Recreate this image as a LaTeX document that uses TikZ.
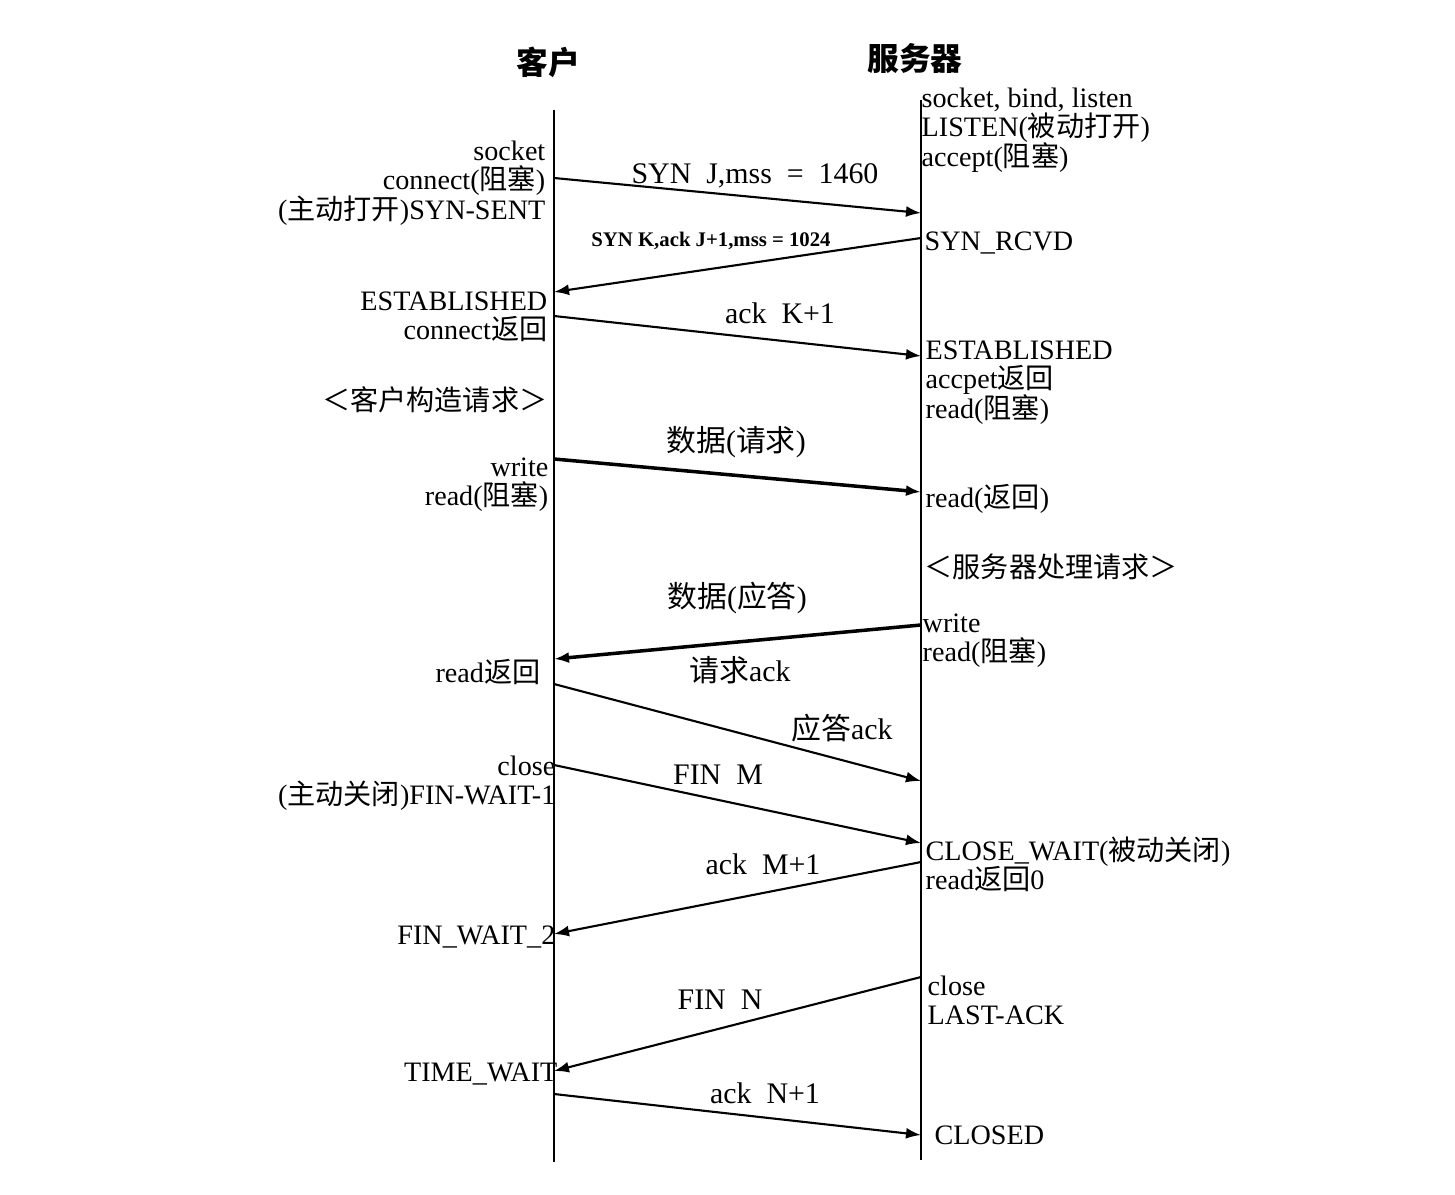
\documentclass[tikz,border=0pt]{standalone}
\usepackage{fontspec}
\setmainfont{Liberation Serif}
\newfontfamily\cjk{Noto Sans CJK SC}
\usetikzlibrary{arrows.meta}
\newcommand{\zh}[1]{{\cjk #1}}
\newcommand{\statefont}{\fontsize{8}{8.4}\selectfont\lineskiplimit=-10pt}

\begin{document}
\begin{tikzpicture}[
			x=0.01cm, y=-0.01cm,
			lifeline/.style={line width=0.6pt},
			msg/.style={line width=0.6pt, -{Latex[length=1.5mm, width=1.1mm]}},
			datamsg/.style={msg, line width=1pt},
			title/.style={inner sep=0pt, font=\fontsize{9}{10}\selectfont\bfseries},
			lstate/.style={anchor=north east, align=right, inner sep=0pt, font=\statefont},
			rstate/.style={anchor=north west, align=left, inner sep=0pt, font=\statefont},
			lbl/.style={inner sep=0pt, font=\fontsize{8.5}{9}\selectfont},
			smalllbl/.style={inner sep=0pt, font=\fontsize{5.9}{6}\selectfont\bfseries}
			]
			\useasboundingbox (0,0) rectangle (1455,1194);
			
			% two ends of the connection
			\node[title] (client) at (548,62) {\zh{客户}};
			\node[title] (server) at (915,58) {\zh{服务器}};
			
			\coordinate (cTop) at (554,110);
			\coordinate (cBot) at (554,1162);
			\coordinate (sTop) at (921,100);
			\coordinate (sBot) at (921,1160);
			\draw[lifeline] (cTop) -- (cBot);
			\draw[lifeline] (sTop) -- (sBot);
			
			% states on the client side
			\node[lstate] (cl1) at (546,140) {socket\\connect(\zh{阻塞})\\(\zh{主动打开})SYN-SENT};
			\node[lstate] (cl2) at (548,291) {ESTABLISHED\\connect\zh{返回}};
			\node[lstate] (cl3) at (548,386) {\zh{＜客户构造请求＞}};
			\node[lstate] (cl4) at (549,457) {write\\read(\zh{阻塞})};
			\node[lstate] (cl5) at (541,659) {read\zh{返回}};
			\node[lstate] (cl6) at (556,755) {close\\(\zh{主动关闭})FIN-WAIT-1};
			\node[lstate] (cl7) at (556,925) {FIN\_WAIT\_2};
			\node[lstate] (cl8) at (558,1062) {TIME\_WAIT};
			
			% states on the server side
			\node[rstate] (sv1) at (921,87) {socket, bind, listen\\LISTEN(\zh{被动打开})\\accept(\zh{阻塞})};
			\node[rstate] (sv2) at (924,231) {SYN\_RCVD};
			\node[rstate] (sv3) at (925,340) {ESTABLISHED\\accpet\zh{返回}\\read(\zh{阻塞})};
			\node[rstate] (sv4) at (925,484) {read(\zh{返回})};
			\node[rstate] (sv5) at (924,553) {\zh{＜服务器处理请求＞}};
			\node[rstate] (sv6) at (922,613) {write\\read(\zh{阻塞})};
			\node[rstate] (sv7) at (925,836) {CLOSE\_WAIT(\zh{被动关闭})\\read\zh{返回}0};
			\node[rstate] (sv8) at (927,975) {close\\LAST-ACK};
			\node[rstate] (sv9) at (934,1125) {CLOSED};
			
			% segment end points
			\coordinate (c1) at (554,178);   \coordinate (s1) at (921,213);
			\coordinate (s2) at (921,238);   \coordinate (c2) at (554,292);
			\coordinate (c3) at (554,316);   \coordinate (s3) at (921,356);
			\coordinate (c4) at (554,459);   \coordinate (s4) at (921,492);
			\coordinate (s5) at (921,625);   \coordinate (c5) at (554,659);
			\coordinate (c6) at (554,684);   \coordinate (s6) at (921,781);
			\coordinate (c7) at (554,765);   \coordinate (s7) at (921,843);
			\coordinate (s8) at (921,862);   \coordinate (c8) at (554,934);
			\coordinate (s9) at (921,977);   \coordinate (c9) at (554,1071);
			\coordinate (c10) at (554,1094); \coordinate (s10) at (921,1135);
			
			\draw[msg] (c1) -- (s1);
			\draw[msg] (s2) -- (c2);
			\draw[msg] (c3) -- (s3);
			\draw[datamsg] (c4) -- (s4);
			\draw[datamsg] (s5) -- (c5);
			\draw[msg] (c6) -- (s6);
			\draw[msg] (c7) -- (s7);
			\draw[msg] (s8) -- (c8);
			\draw[msg] (s9) -- (c9);
			\draw[msg] (c10) -- (s10);
			
			% segment labels
			\node[lbl] (synJ) at (755,176) {SYN~~J,mss~~=~~1460};
			\node[smalllbl] (synK) at (711,241) {SYN K,ack J+1,mss = 1024};
			\node[lbl] (ackK) at (780,313) {ack~~K+1};
			\node[lbl] (req) at (736,442) {\zh{数据}(\zh{请求})};
			\node[lbl] (rep) at (737,598) {\zh{数据}(\zh{应答})};
			\node[lbl] (reqAck) at (740,670) {\zh{请求}ack};
			\node[lbl] (repAck) at (842,728) {\zh{应答}ack};
			\node[lbl] (finM) at (718,775) {FIN~~M};
			\node[lbl] (ackM) at (763,864) {ack~~M+1};
			\node[lbl] (finN) at (720,1000) {FIN~~N};
			\node[lbl] (ackN) at (765,1093) {ack~~N+1};
		\end{tikzpicture}
\end{document}
